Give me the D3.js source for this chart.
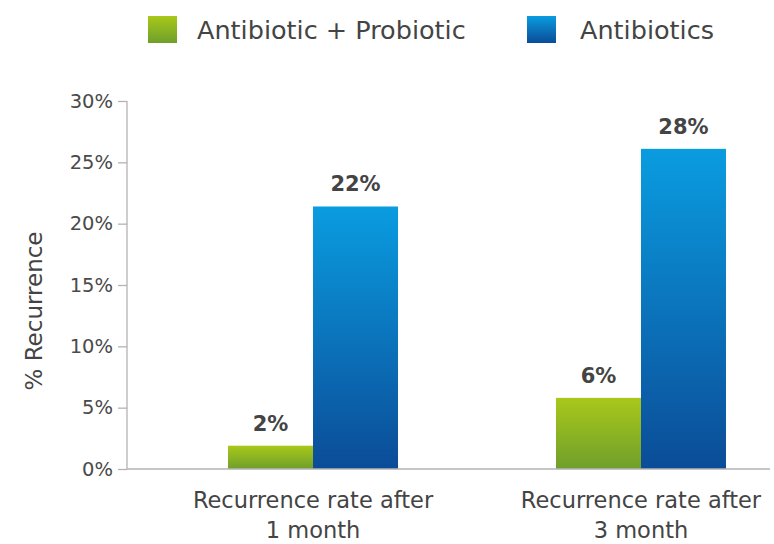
<!DOCTYPE html>
<html><head><meta charset="utf-8">
<script src="https://cdn.jsdelivr.net/npm/d3@7"></script>
<style>
html,body{margin:0;padding:0;background:#fff;}
svg{display:block;font-family:"DejaVu Sans",sans-serif;}
</style></head>
<body><svg id="c" width="774" height="544"></svg>
<script>
const categories = [["Recurrence rate after","1 month"],["Recurrence rate after","3 month"]];
const categoryKeys = ["1 month","3 month"];
const seriesNames = ["Antibiotic + Probiotic","Antibiotics"];
const comboValues = [1.9, 5.8];
const antibioticValues = [21.4, 26.1];
const comboLabels = ["2%","6%"];
const antibioticLabels = ["22%","28%"];
const yTicks = [0,5,10,15,20,25,30];

const FONT = "'DejaVu Sans',sans-serif";
const svg = d3.select("#c");
const defs = svg.append("defs");
const grads = [
  {id:"gGreen", top:"#a9c81a", bottom:"#6f9f2c"},
  {id:"gBlue", top:"#0a9ce0", bottom:"#0b4c97"}
];
grads.forEach(g=>{
  const lg = defs.append("linearGradient").attr("id",g.id).attr("x1",0).attr("y1",0).attr("x2",0).attr("y2",1);
  lg.append("stop").attr("offset","0%").attr("stop-color",g.top);
  lg.append("stop").attr("offset","100%").attr("stop-color",g.bottom);
});
const fills = ["url(#gGreen)","url(#gBlue)"];

const y = d3.scaleLinear().domain([0,30]).range([469,101]);
const x0 = d3.scaleBand().domain(categoryKeys).range([127,827]).paddingInner(0.4817).paddingOuter(0.308);
const x1 = d3.scaleBand().domain(seriesNames).range([0,x0.bandwidth()]).padding(0);

const data = categoryKeys.map((k,i)=>({key:k, vals:[
  {s:seriesNames[0], v:comboValues[i], l:comboLabels[i]},
  {s:seriesNames[1], v:antibioticValues[i], l:antibioticLabels[i]}
]}));

// y axis
const yAxis = d3.axisLeft(y).tickValues(yTicks).tickFormat(d=>d+"%").tickSize(9).tickPadding(5);
const ya = svg.append("g").attr("transform","translate(127,0)").call(yAxis);
ya.select(".domain").attr("stroke","#b3b3b3").attr("stroke-width",1.3).attr("d","M0,101V469");
ya.selectAll(".tick line").attr("stroke","#b3b3b3").attr("stroke-width",1.3);
ya.selectAll(".tick text").attr("fill","#4a4a4a").style("font-size","19.5px").style("font-family",FONT);

// bars
const groups = svg.append("g").selectAll("g").data(data).join("g")
  .attr("transform",d=>`translate(${x0(d.key)},0)`);
groups.selectAll("rect").data(d=>d.vals).join("rect")
  .attr("x",d=>x1(d.s)).attr("width",x1.bandwidth())
  .attr("y",d=>y(d.v)).attr("height",d=>y(0)-y(d.v))
  .attr("fill",(d,i)=>fills[i]);
groups.selectAll("text.val").data(d=>d.vals).join("text").attr("class","val")
  .attr("x",d=>x1(d.s)+x1.bandwidth()/2)
  .attr("y",d=>y(d.v)-15)
  .attr("text-anchor","middle").attr("fill","#444")
  .style("font-size","21px").style("font-weight","700")
  .text(d=>d.l);

// x baseline
svg.append("line").attr("x1",127).attr("x2",770).attr("y1",469).attr("y2",469)
  .attr("stroke","#b3b3b3").attr("stroke-width",1.3);

// x labels
categoryKeys.forEach((k,i)=>{
  const t = svg.append("text").attr("text-anchor","middle").attr("fill","#444")
    .style("font-size","22.5px");
  categories[i].forEach((line,j)=>{
    t.append("tspan").attr("x",x0(k)+x0.bandwidth()/2).attr("y",508+j*30).text(line);
  });
});

// y title
svg.append("text").attr("transform","translate(42,311) rotate(-90)")
  .attr("text-anchor","middle").attr("fill","#444").style("font-size","23px").text("% Recurrence");

// legend
const legendX = [148,527];
const legendTextX = [197,580];
seriesNames.forEach((s,i)=>{
  svg.append("rect").attr("x",legendX[i]).attr("y",16).attr("width",29).attr("height",27).attr("fill",fills[i]);
  svg.append("text").attr("x",legendTextX[i]).attr("y",39).attr("fill","#444")
    .style("font-size","25.5px").text(s);
});
</script></body></html>
